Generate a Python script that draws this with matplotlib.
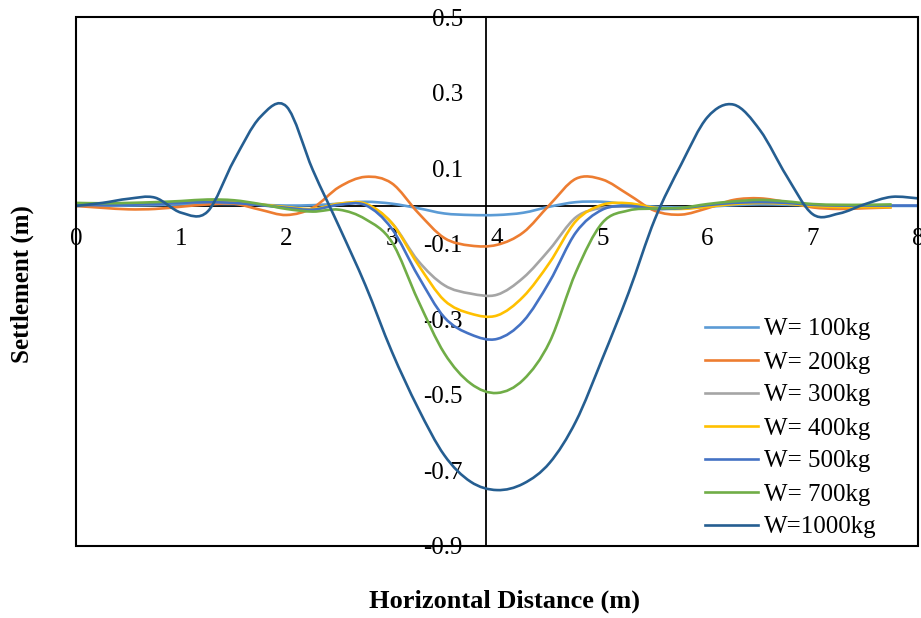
import matplotlib
matplotlib.use("Agg")
import matplotlib.pyplot as plt
import numpy as np
from matplotlib.lines import Line2D
from matplotlib.patches import PathPatch, Rectangle
from matplotlib.path import Path

### data (settlement in m)
x = [0, 0.25, 0.5, 0.75, 1.0, 1.25, 1.5, 1.75, 2.0, 2.25, 2.5, 2.75, 3.0, 3.25, 3.5, 3.75,
     4.0, 4.25, 4.5, 4.75, 5.0, 5.25, 5.5, 5.75, 6.0, 6.25, 6.5, 6.75, 7.0, 7.25, 7.5, 7.75, 8.0]

w100 = [0.0, 0.0, 0.001, 0.002, 0.004, 0.005, 0.005, 0.003, 0.001, 0.002, 0.006, 0.011, 0.006, -0.006, -0.02, -0.024,
        -0.024, -0.018, -0.002, 0.01, 0.011, 0.004, -0.002, -0.004, -0.002, 0.002, 0.004, 0.003, 0.001, 0.0, 0.0, 0.0, 0.0]
w200 = [0.0, -0.005, -0.009, -0.008, -0.002, 0.004, 0.006, -0.01, -0.024, -0.005, 0.05, 0.077, 0.06, -0.018, -0.085, -0.105,
        -0.103, -0.07, 0.003, 0.072, 0.07, 0.03, -0.013, -0.023, -0.006, 0.016, 0.02, 0.01, -0.004, -0.008, -0.006, -0.004]
w300 = [0.003, 0.003, 0.004, 0.006, 0.009, 0.011, 0.009, 0.003, -0.004, -0.009, 0.004, 0.004, -0.045, -0.145, -0.21, -0.232,
        -0.235, -0.19, -0.115, -0.03, -0.005, -0.002, -0.006, -0.007, -0.001, 0.005, 0.008, 0.006, 0.001, -0.001, -0.001, -0.001]
w400 = [0.004, 0.003, 0.004, 0.006, 0.009, 0.012, 0.01, 0.004, -0.003, -0.008, 0.006, 0.006, -0.045, -0.155, -0.25, -0.285,
        -0.29, -0.24, -0.15, -0.04, 0.003, 0.007, -0.005, -0.008, -0.002, 0.005, 0.008, 0.006, 0.0, -0.003, -0.003, -0.003]
w500 = [0.003, 0.002, 0.003, 0.005, 0.008, 0.01, 0.008, 0.002, -0.005, -0.01, 0.003, 0.002, -0.06, -0.185, -0.295, -0.34,
        -0.352, -0.305, -0.2, -0.07, -0.01, 0.0, -0.008, -0.006, 0.002, 0.008, 0.01, 0.008, 0.003, 0.001, 0.001, 0.001, 0.001]
w700 = [0.008, 0.007, 0.008, 0.01, 0.013, 0.017, 0.015, 0.005, -0.008, -0.015, -0.01, -0.035, -0.095, -0.25, -0.39, -0.47,
        -0.495, -0.46, -0.36, -0.175, -0.045, -0.012, -0.007, -0.005, 0.005, 0.012, 0.016, 0.012, 0.005, 0.003, 0.003, 0.004]
w1000 = [0.0, 0.008, 0.019, 0.022, -0.018, -0.015, 0.12, 0.235, 0.263, 0.095, -0.055, -0.21, -0.385, -0.535, -0.66, -0.73,
         -0.752, -0.735, -0.68, -0.57, -0.405, -0.23, -0.035, 0.11, 0.235, 0.268, 0.2, 0.08, -0.022, -0.02, 0.005, 0.024, 0.02]

labels = ["W= 100kg", "W= 200kg", "W= 300kg", "W= 400kg", "W= 500kg", "W= 700kg", "W=1000kg"]
series = [w100, w200, w300, w400, w500, w700, w1000]
colors = ["#5B9BD5", "#ED7D31", "#A5A5A5", "#FFC000", "#4472C4", "#70AD47", "#255E91"]


def smooth_path(xs, ys):
    """ excel-like smoothed line: bezier segments through the data points """
    p = np.column_stack([xs, ys])
    n = len(p)
    verts = [p[0]]
    codes = [Path.MOVETO]
    for i in range(n - 1):
        p0 = p[i - 1] if i > 0 else p[i]
        p3 = p[i + 2] if i + 2 < n else p[i + 1]
        c1 = p[i] + (p[i + 1] - p0) / 6
        c2 = p[i + 1] - (p3 - p[i]) / 6
        verts += [c1, c2, p[i + 1]]
        codes += [Path.CURVE4] * 3
    return Path(verts, codes)


plt.rcParams['font.family'] = ['Liberation Serif', 'DejaVu Serif']
fs = 18

fig = plt.figure(figsize=(9.21, 6.18), dpi=100)
ax = fig.add_axes([76/921, 72/618, 842/921, 529/618])

handles = []
for ys, lab, c in zip(series, labels, colors):
    ax.add_patch(PathPatch(smooth_path(x[:len(ys)], ys), fill=False, ec=c, lw=1.9, zorder=2))
    handles.append(Line2D([], [], color=c, lw=1.9, label=lab))

ax.set_xlim(0, 8)
ax.set_ylim(-0.9, 0.5)
ax.set_xticks(range(0, 9))
ax.set_yticks([-0.9, -0.7, -0.5, -0.3, -0.1, 0.1, 0.3, 0.5])
ax.set_yticklabels(["-0.9", "-0.7", "-0.5", "-0.3", "-0.1", "0.1", "0.3", "0.5"])

# axes cross inside the plot like the excel chart
ax.spines['left'].set_position(('data', 3.9))
ax.spines['bottom'].set_position(('data', 0))
for sp in ax.spines.values():
    sp.set_linewidth(1.3)
    sp.set_zorder(1)
ax.add_patch(Rectangle((0, 0), 1, 1, transform=ax.transAxes, fill=False,
                       lw=1.5, ec='black', zorder=3, clip_on=False))

ax.tick_params(axis='y', length=0, pad=17, labelsize=fs)
ax.tick_params(axis='x', length=0, pad=16, labelsize=fs)

fig.text(504/921, 1 - 601/618, "Horizontal Distance (m)", ha='center', va='center',
         fontsize=19, fontweight='bold')
fig.text(22/921, 1 - 284/618, "Settlement (m)", ha='center', va='center',
         rotation=90, fontsize=fs, fontweight='bold')

ax.legend(handles=handles, loc='upper left', bbox_to_anchor=(705/921, 1 - 318/618),
          bbox_transform=fig.transFigure, frameon=False, fontsize=fs, handlelength=2.1,
          handletextpad=0.25, labelspacing=0.42, borderpad=0, borderaxespad=0)

fig.savefig("out.png", dpi=100)
